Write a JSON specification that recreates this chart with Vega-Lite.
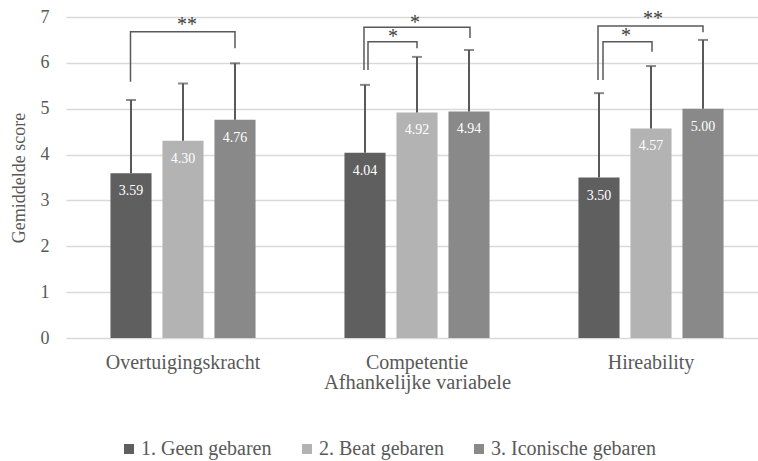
{
  "$schema": "https://vega.github.io/schema/vega-lite/v6.json",
  "width": 692,
  "height": 321,
  "autosize": {"type": "none"},
  "padding": {"left": 66, "top": 17, "right": 0, "bottom": 123},
  "config": {
    "view": {"stroke": null},
    "font": "Liberation Serif, Times New Roman, serif",
    "axis": {
      "labelFont": "Liberation Serif, Times New Roman, serif",
      "titleFont": "Liberation Serif, Times New Roman, serif",
      "labelColor": "#595959",
      "titleColor": "#595959",
      "titleFontWeight": "normal",
      "domain": false,
      "ticks": false
    },
    "axisY": {"gridColor": "#d9d9d9", "gridWidth": 1.5, "labelFontSize": 18, "titleFontSize": 18, "labelPadding": 17, "titlePadding": 12},
    "axisX": {"grid": false, "labelAngle": 0, "labelFontSize": 20, "titleFontSize": 20.5, "labelPadding": 14, "titlePadding": 0},
    "legend": {
      "labelFont": "Liberation Serif, Times New Roman, serif",
      "labelFontSize": 20,
      "labelColor": "#595959",
      "labelLimit": 400,
      "padding": 0
    }
  },
  "datasets": {
    "bars": [
      {"variable": "Overtuigingskracht", "group": "1. Geen gebaren", "mean": 3.59, "upper": 5.19},
      {"variable": "Overtuigingskracht", "group": "2. Beat gebaren", "mean": 4.30, "upper": 5.55},
      {"variable": "Overtuigingskracht", "group": "3. Iconische gebaren", "mean": 4.76, "upper": 5.99},
      {"variable": "Competentie", "group": "1. Geen gebaren", "mean": 4.04, "upper": 5.52},
      {"variable": "Competentie", "group": "2. Beat gebaren", "mean": 4.92, "upper": 6.13},
      {"variable": "Competentie", "group": "3. Iconische gebaren", "mean": 4.94, "upper": 6.28},
      {"variable": "Hireability", "group": "1. Geen gebaren", "mean": 3.50, "upper": 5.34},
      {"variable": "Hireability", "group": "2. Beat gebaren", "mean": 4.57, "upper": 5.93},
      {"variable": "Hireability", "group": "3. Iconische gebaren", "mean": 5.00, "upper": 6.50}
    ],
    "brackets": [
      {"id": "o", "idx": 1, "xq": 0.2756, "yv": 5.589},
      {"id": "o", "idx": 2, "xq": 0.2756, "yv": 6.679},
      {"id": "o", "idx": 3, "xq": 0.7222, "yv": 6.679},
      {"id": "o", "idx": 4, "xq": 0.7222, "yv": 6.317},
      {"id": "c1", "idx": 1, "xq": 1.2735, "yv": 5.844},
      {"id": "c1", "idx": 2, "xq": 1.2735, "yv": 6.775},
      {"id": "c1", "idx": 3, "xq": 1.7265, "yv": 6.775},
      {"id": "c1", "idx": 4, "xq": 1.7265, "yv": 6.542},
      {"id": "c2", "idx": 1, "xq": 1.2906, "yv": 5.844},
      {"id": "c2", "idx": 2, "xq": 1.2906, "yv": 6.461},
      {"id": "c2", "idx": 3, "xq": 1.5, "yv": 6.461},
      {"id": "c2", "idx": 4, "xq": 1.5, "yv": 6.317},
      {"id": "h1", "idx": 1, "xq": 2.2735, "yv": 5.626},
      {"id": "h1", "idx": 2, "xq": 2.2735, "yv": 6.804},
      {"id": "h1", "idx": 3, "xq": 2.7222, "yv": 6.804},
      {"id": "h1", "idx": 4, "xq": 2.7222, "yv": 6.666},
      {"id": "h2", "idx": 1, "xq": 2.2949, "yv": 5.626},
      {"id": "h2", "idx": 2, "xq": 2.2949, "yv": 6.461},
      {"id": "h2", "idx": 3, "xq": 2.5043, "yv": 6.461},
      {"id": "h2", "idx": 4, "xq": 2.5043, "yv": 6.243}
    ],
    "stars": [
      {"xq": 0.517, "yv": 6.693, "label": "**"},
      {"xq": 1.491, "yv": 6.730, "label": "*"},
      {"xq": 1.397, "yv": 6.440, "label": "*"},
      {"xq": 2.509, "yv": 6.817, "label": "**"},
      {"xq": 2.393, "yv": 6.446, "label": "*"}
    ]
  },
  "layer": [
    {
      "data": {"name": "bars"},
      "encoding": {
        "x": {
          "field": "variable",
          "type": "nominal",
          "sort": ["Overtuigingskracht", "Competentie", "Hireability"],
          "scale": {"range": [0, 702], "paddingInner": 0, "paddingOuter": 0},
          "title": "Afhankelijke variabele"
        },
        "xOffset": {
          "field": "group",
          "type": "nominal",
          "scale": {"paddingInner": 0.21, "paddingOuter": 0.855}
        },
        "y": {
          "field": "mean",
          "type": "quantitative",
          "stack": null,
          "scale": {"domain": [0, 7], "nice": false},
          "axis": {"values": [0, 1, 2, 3, 4, 5, 6, 7]},
          "title": "Gemiddelde score"
        }
      },
      "layer": [
        {
          "mark": {"type": "bar"},
          "encoding": {
            "color": {
              "field": "group",
              "type": "nominal",
              "scale": {"range": ["#5f5f5f", "#b3b3b3", "#898989"]},
              "legend": {
                "title": null,
                "orient": "none",
                "direction": "horizontal",
                "legendX": 53,
                "legendY": 422,
                "symbolType": "square",
                "symbolSize": 100,
                "symbolStrokeWidth": 0,
                "labelOffset": 2,
                "columnPadding": 25
              }
            }
          }
        },
        {
          "mark": {"type": "rule", "color": "#595959", "strokeWidth": 2},
          "encoding": {"y2": {"field": "upper"}}
        },
        {
          "mark": {"type": "tick", "orient": "horizontal", "color": "#595959", "size": 10, "thickness": 2},
          "encoding": {"y": {"field": "upper", "type": "quantitative"}}
        },
        {
          "mark": {"type": "text", "color": "#ffffff", "fontSize": 14, "baseline": "middle", "dy": 18, "font": "Liberation Serif, Times New Roman, serif"},
          "encoding": {"text": {"field": "mean", "type": "quantitative", "format": ".2f"}}
        }
      ]
    },
    {
      "layer": [
        {
          "data": {"name": "brackets"},
          "mark": {"type": "line", "color": "#595959", "strokeWidth": 1.5, "strokeJoin": "miter"},
          "encoding": {
            "x": {"field": "xq", "type": "quantitative", "scale": {"domain": [0, 3], "range": [0, 702], "nice": false, "zero": false}, "axis": null},
            "y": {"field": "yv", "type": "quantitative", "title": "Gemiddelde score"},
            "detail": {"field": "id"},
            "order": {"field": "idx"}
          }
        },
        {
          "data": {"name": "stars"},
          "mark": {"type": "text", "color": "#404040", "fontSize": 20, "baseline": "alphabetic", "align": "center", "font": "Liberation Serif, Times New Roman, serif"},
          "encoding": {
            "x": {"field": "xq", "type": "quantitative", "scale": {"domain": [0, 3], "range": [0, 702], "nice": false, "zero": false}, "axis": null},
            "y": {"field": "yv", "type": "quantitative", "title": "Gemiddelde score"},
            "text": {"field": "label"}
          }
        }
      ]
    }
  ],
  "resolve": {"scale": {"x": "independent"}}
}
